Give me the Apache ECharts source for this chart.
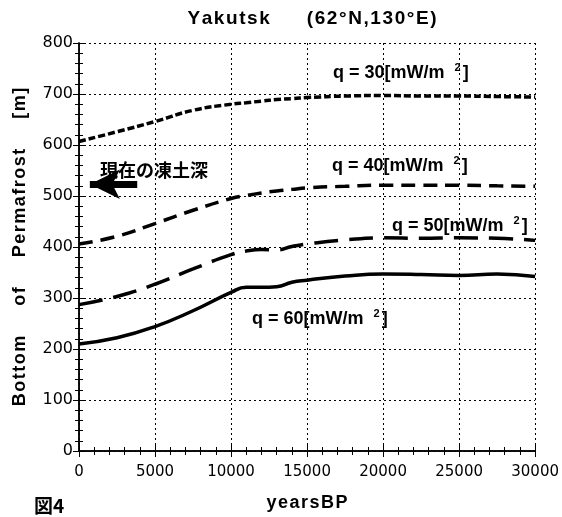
<!DOCTYPE html>
<html>
<head>
<meta charset="utf-8">
<script src="https://cdn.jsdelivr.net/npm/echarts@6/dist/echarts.min.js"></script>
<style>
  html, body { margin: 0; padding: 0; background: #fff; }
  #main { width: 562px; height: 517px; }
</style>
</head>
<body>
<div id="main"></div>
<script>
// years before present
var years = [0, 2500, 5000, 7500, 10000, 11000, 12000, 13000, 14000, 15000, 17500, 20000, 22500, 25000, 27500, 30000];
// depth of permafrost bottom [m] for each heat flow q
var q30 = [607, 626, 646, 668, 680, 683, 686, 689, 691, 693, 696, 697, 696, 696, 695, 694];
var q40 = [406, 421, 446, 472, 495, 501, 506, 510, 513, 516, 519, 521, 521, 521, 520, 519];
var q50 = [287, 303, 327, 357, 385, 392, 395, 394, 401, 406, 414, 418, 417, 418, 417, 413];
var q60 = [210, 222, 244, 275, 311, 321, 321, 322, 331, 335, 343, 347, 346, 344, 347, 342];
var xTicks = [0, 5000, 10000, 15000, 20000, 25000, 30000];
var yTicks = [0, 100, 200, 300, 400, 500, 600, 700, 800];
var presentDepth = 523;   // 現在の凍土深

function pairs(vals) {
    return years.map(function (y, i) { return [y, vals[i]]; });
}
// the original lettering is widely tracked
function spaced(s) {
    return s.split(' ').map(function (w) { return w.split('').join('\u200A'); }).join(' ');
}

var myChart = echarts.init(document.getElementById('main'));

var sans = '"Liberation Sans", Arial, sans-serif';
var tick = { show: true, inside: true, length: 6, lineStyle: { color: '#000', width: 1 } };
var minor = { show: true, splitNumber: 5, length: 4, lineStyle: { color: '#000', width: 1 } };

function qLabel(q, x, y) {
    return {
        type: 'text', x: x, y: y,
        style: {
            text: 'q = ' + q + '[mW/m  {s|2}]',
            font: 'bold 18px ' + sans,
            fill: '#000', verticalAlign: 'middle',
            rich: { s: { fontSize: 11, fontWeight: 'bold', fontFamily: sans, padding: [0, 2, 11, 0] } }
        }
    };
}

var option = {
    animation: false,
    backgroundColor: '#fff',
    textStyle: { fontFamily: sans, color: '#000' },
    grid: { left: 79, right: 21, top: 43, bottom: 58 },
    xAxis: [{
        type: 'value', min: 0, max: 30000, interval: 5000,
        name: spaced('yearsBP'), nameLocation: 'middle', nameGap: 43,
        nameTextStyle: { fontSize: 18, fontWeight: 'bold', color: '#000', fontFamily: sans },
        axisLine: { lineStyle: { color: '#000', width: 1.5 } },
        axisTick: tick, minorTick: minor,
        axisLabel: { color: '#000', fontSize: 15, margin: 14, fontFamily: 'DejaVu Sans',
            formatter: function (v) { return xTicks.indexOf(v) >= 0 ? String(v) : ''; } },
        splitLine: { lineStyle: { color: '#000', type: [2, 3], width: 1 } }
    }, {
        type: 'value', min: 0, max: 30000, interval: 5000, position: 'top',
        axisLine: { show: true, lineStyle: { color: '#000', width: 1.5 } },
        axisTick: tick, minorTick: minor, axisLabel: { show: false }, splitLine: { show: false }
    }],
    yAxis: [{
        type: 'value', min: 0, max: 800, interval: 100,
        name: spaced('Bottom') + '      ' + spaced('of') + '      ' + spaced('Permafrost') + '      ' + spaced('[m]'),
        nameLocation: 'middle', nameGap: 50,
        nameTextStyle: { fontSize: 18, fontWeight: 'bold', color: '#000', fontFamily: sans },
        axisLine: { show: true, lineStyle: { color: '#000', width: 1.5 } },
        axisTick: tick, minorTick: minor,
        axisLabel: { color: '#000', fontSize: 16, margin: 6, fontFamily: 'DejaVu Sans',
            formatter: function (v) { return yTicks.indexOf(v) >= 0 ? String(v) : ''; } },
        splitLine: { lineStyle: { color: '#000', type: [2, 3], width: 1 } }
    }, {
        type: 'value', min: 0, max: 800, interval: 100, position: 'right',
        axisLine: { show: true, lineStyle: { color: '#000', width: 1.5 } },
        axisTick: tick, minorTick: minor, axisLabel: { show: false }, splitLine: { show: false }
    }],
    series: [{
        name: 'q=30', type: 'line', smooth: true, showSymbol: false, data: pairs(q30),
        lineStyle: { color: '#000', width: 3.5, type: [7, 3] }
    }, {
        name: 'q=40', type: 'line', smooth: true, showSymbol: false, data: pairs(q40),
        lineStyle: { color: '#000', width: 3.5, type: [14, 8] }
    }, {
        name: 'q=50', type: 'line', smooth: true, showSymbol: false, data: pairs(q50),
        lineStyle: { color: '#000', width: 3.5, type: [24, 11] }
    }, {
        name: 'q=60', type: 'line', smooth: true, showSymbol: false, data: pairs(q60),
        lineStyle: { color: '#000', width: 3.5 },
        markLine: {
            silent: true, animation: false,
            symbol: ['none', 'arrow'], symbolSize: [22, 30],
            label: { show: false },
            lineStyle: { color: '#000', width: 7, type: 'solid' },
            data: [[{ coord: [3830, presentDepth] }, { coord: [714, presentDepth] }]]
        }
    }],
    graphic: [
        { type: 'text', x: 312, y: 19,
          style: { text: spaced('Yakutsk') + '       ' + spaced('(62°N,130°E)'),
                   font: 'bold 19px ' + sans, fill: '#000', align: 'center', verticalAlign: 'middle' } },
        { type: 'text', x: 100, y: 170,
          style: { text: '現在の凍土深', font: 'bold 18px "Noto Sans CJK JP"', fill: '#000', verticalAlign: 'middle' } },
        qLabel(30, 333, 73),
        qLabel(40, 332, 166),
        qLabel(50, 392, 226),
        qLabel(60, 252, 319),
        { type: 'text', x: 34, y: 506,
          style: { text: '図4', font: 'bold 19px "Noto Sans CJK JP"', fill: '#000', verticalAlign: 'middle' } }
    ]
};

myChart.setOption(option);
window.onresize = function () {
    myChart.resize();
};
</script>
</body>
</html>
